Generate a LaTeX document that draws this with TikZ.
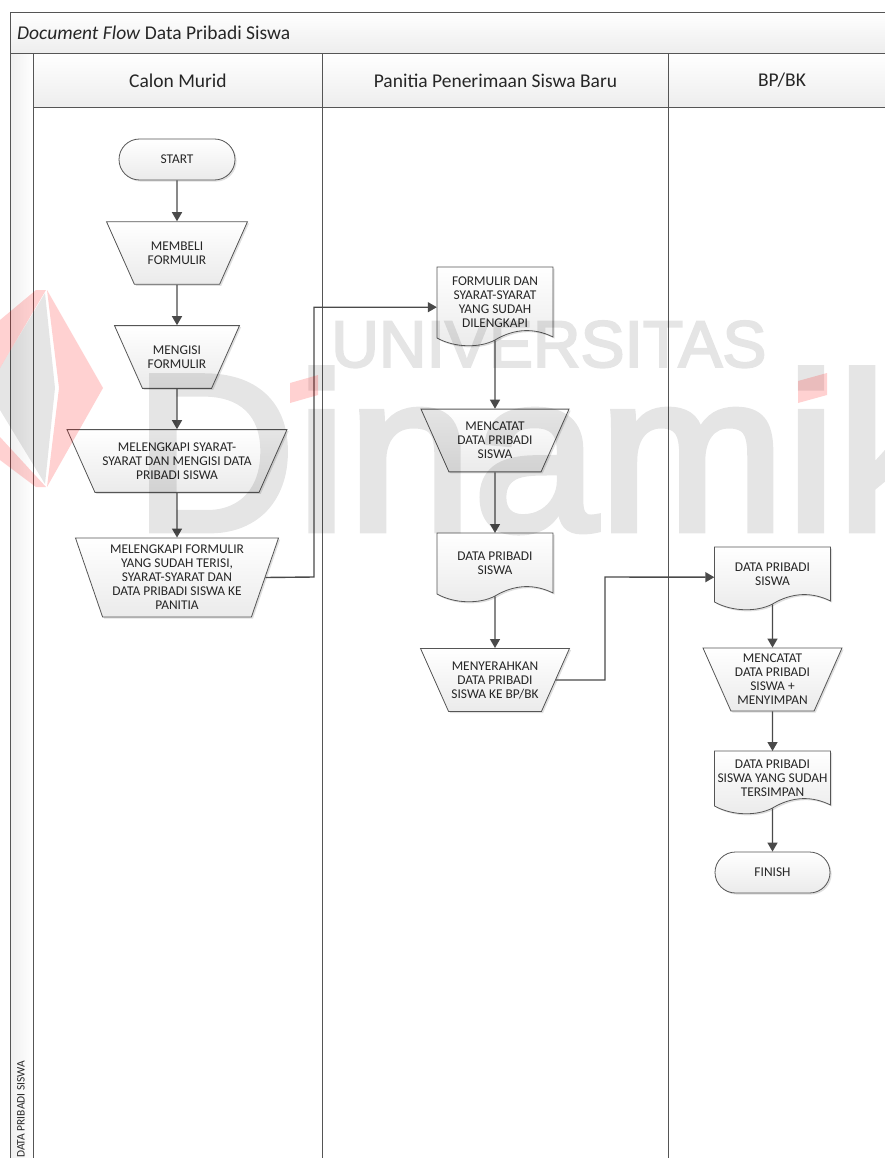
\documentclass[tikz,border=0pt]{standalone}
\usepackage{fontspec}
\setmainfont{Carlito}
\newfontfamily\markfont[FakeBold=3]{Liberation Sans}
\usetikzlibrary{arrows.meta}
\usetikzlibrary{shapes.geometric}
\usetikzlibrary{shapes.misc}
\usetikzlibrary{shadows}
\definecolor{lineGray}{HTML}{555555}
\definecolor{arrowGray}{HTML}{4A4A4A}
\definecolor{textDark}{HTML}{262626}
\tikzset{
    smalltext/.style = {font=\fontsize{13.4}{14}\selectfont, text=textDark, align=center, inner sep=0pt},
    headtext/.style = {font=\fontsize{19.5}{22}\selectfont, text=textDark},
    papershade/.style = {draw=lineGray, line width=0.8pt, top color=white, bottom color=black!8,
        drop shadow={shadow xshift=1.6pt, shadow yshift=-1.6pt, opacity=0.25}},
    terminal/.style = {papershade, smalltext, rounded rectangle, minimum width=116pt, minimum height=41pt},
    manual/.style = {papershade, smalltext, trapezium, shape border rotate=180,
        trapezium left angle=66, trapezium right angle=66, trapezium stretches body,
        minimum height=62pt},
    docbox/.style = {smalltext, rectangle, minimum width=116pt},
    flow/.style = {-{Triangle[length=9pt,width=10pt]}, draw=arrowGray, line width=1.4pt},
    lanebar/.style = {draw=lineGray, line width=0.9pt},
    headbox/.style = {draw=lineGray, line width=0.9pt, top color=white, bottom color=black!7,
        rectangle, anchor=north west, inner sep=0pt},
    markword/.style = {text=black, inner sep=0pt, anchor=base west},
}
% document shape, #2 is the top edge, #3 the height down to the wave, #6 lifts the text
\newcommand{\docnode}[6]{
    \begin{scope}[shift={(#2,#3)}]
        \draw[papershade] (-58,0) -- (58,0) -- (58,#4-3)
            .. controls (40,#4-12) and (20,#4-12) .. (0,#4)
            .. controls (-15,#4+8) and (-40,#4+8) .. (-58,#4-2) -- cycle;
        \node[docbox, anchor=north, minimum height=#4 pt] (#1) at (0,0)
            {\raisebox{#6}{\begin{tabular}{@{}c@{}}#5\end{tabular}}};
    \end{scope}
}
\begin{document}
\begin{tikzpicture}[x=1pt,y=-1pt]
    \useasboundingbox (0,0) rectangle (885,1158);
    \clip (0,0) rectangle (885,1158);
    % frame and lanes
    \node[headbox, left color=black!6, right color=white, minimum width=23pt, minimum height=1130pt] (Strip) at (10,53) {};
    \node[headbox, minimum width=900pt, minimum height=41pt] (Judul) at (10,12) {};
    \node[anchor=west, inner sep=0pt, headtext] (JudulTeks) at (17,32.5) {\textit{Document Flow} Data Pribadi Siswa};
    \node[headbox, headtext, minimum width=289pt, minimum height=54pt] (Calon) at (33,53) {Calon Murid};
    \node[headbox, headtext, minimum width=346pt, minimum height=54pt] (Panitia) at (322,53) {Panitia Penerimaan Siswa Baru};
    \node[headbox, headtext, minimum width=227pt, minimum height=54pt] (Bpbk) at (668,53) {BP/BK};
    \draw[lanebar] (322,107) -- (322,1170);
    \draw[lanebar] (668,107) -- (668,1170);
    \node[rotate=90, anchor=west, inner sep=0pt, text=textDark, font=\fontsize{11.5}{14}\selectfont] (Sisi) at (21,1158) {DATA PRIBADI SISWA};
    % Calon Murid
    \node[terminal] (Start) at (177,159.5) {START};
    \node[manual, inner ysep=20pt, minimum width=141pt] (Beli) at (177,253) {MEMBELI\\FORMULIR};
    \node[manual, inner ysep=20pt, minimum width=125pt] (Isi) at (177,357) {MENGISI\\FORMULIR};
    \node[manual, inner ysep=13pt, minimum width=220pt] (Lengkap) at (177,461) {MELENGKAPI SYARAT-\\SYARAT DAN MENGISI DATA\\PRIBADI SISWA};
    \node[manual, inner ysep=7pt, minimum height=79pt, trapezium left angle=71, trapezium right angle=71, minimum width=203pt] (Serah) at (177,577.5) {MELENGKAPI FORMULIR\\YANG SUDAH TERISI,\\SYARAT-SYARAT DAN\\DATA PRIBADI SISWA KE\\PANITIA};
    % Panitia
    \docnode{Berkas}{495}{267}{73}{FORMULIR DAN\\SYARAT-SYARAT\\YANG SUDAH\\DILENGKAPI}{4.5pt}
    \node[manual, inner ysep=13pt, minimum width=148pt] (Catat) at (495,440.5) {MENCATAT\\DATA PRIBADI\\SISWA};
    \docnode{Data}{495}{533}{63}{DATA PRIBADI\\SISWA}{7.5pt}
    \node[manual, inner ysep=13pt, minimum width=149pt] (Kirim) at (495,680) {MENYERAHKAN\\DATA PRIBADI\\SISWA KE BP/BK};
    % BP/BK
    \docnode{DataBk}{772.5}{547}{57}{DATA PRIBADI\\SISWA}{6pt}
    \node[manual, inner ysep=6pt, minimum height=63pt, minimum width=139pt] (Simpan) at (772.5,679.5) {MENCATAT\\DATA PRIBADI\\SISWA +\\MENYIMPAN};
    \docnode{Arsip}{772.5}{751}{57}{DATA PRIBADI\\SISWA YANG SUDAH\\TERSIMPAN}{5pt}
    \node[terminal, minimum width=115pt] (Finish) at (772.5,872.5) {FINISH};
    % connectors
    \coordinate (BelokA) at (314,577);
    \coordinate (BelokB) at (605,577);
    \draw[flow] (Start) to (Beli);
    \draw[flow] (Beli) to (Isi);
    \draw[flow] (Isi) to (Lengkap);
    \draw[flow] (Lengkap) to (Serah);
    \draw[flow] (Serah.east) -- (BelokA) |- ([yshift=-3.5pt]Berkas.west);
    \draw[flow] (Berkas) to (Catat);
    \draw[flow] (Catat) to (Data);
    \draw[flow] (Data) to (Kirim);
    \draw[flow] (Kirim.east) -| (BelokB) -- ([yshift=-1.5pt]DataBk.west);
    \draw[flow] (DataBk) to (Simpan);
    \draw[flow] (Simpan) to (Arsip);
    \draw[flow] (Arsip) to (Finish);
    % watermark
    \fill[red, opacity=0.18] (47,290) -- (103,388) -- (47,487) -- (59,388) -- cycle;
    \fill[red, opacity=0.18] (0,320) -- (36,290) -- (46,290) -- (0,368) -- cycle;
    \fill[red, opacity=0.18] (0,437) -- (46,487) -- (36,487) -- (0,460) -- cycle;
    \fill[black, opacity=0.1] (45,293) -- (55,388) -- (45,484) -- (0,410) -- (0,368) -- cycle;
    \begin{scope}[transparency group, opacity=0.1]
        \node[markword, font=\markfont\fontsize{66}{70}\selectfont] (Univ) at (331,367) {UNIVERSITAS};
        \node[markword, font=\markfont\fontsize{223}{230}\selectfont\addfontfeature{LetterSpace=0.7}] (Dina) at (134,530) {Dinamik};
    \end{scope}
    \fill[red, opacity=0.18] (290,383) -- (318,375) -- (318,395) -- (290,403) -- cycle;
    \fill[red, opacity=0.18] (798,381) -- (827,373) -- (827,395) -- (798,403) -- cycle;
\end{tikzpicture}
\end{document}
